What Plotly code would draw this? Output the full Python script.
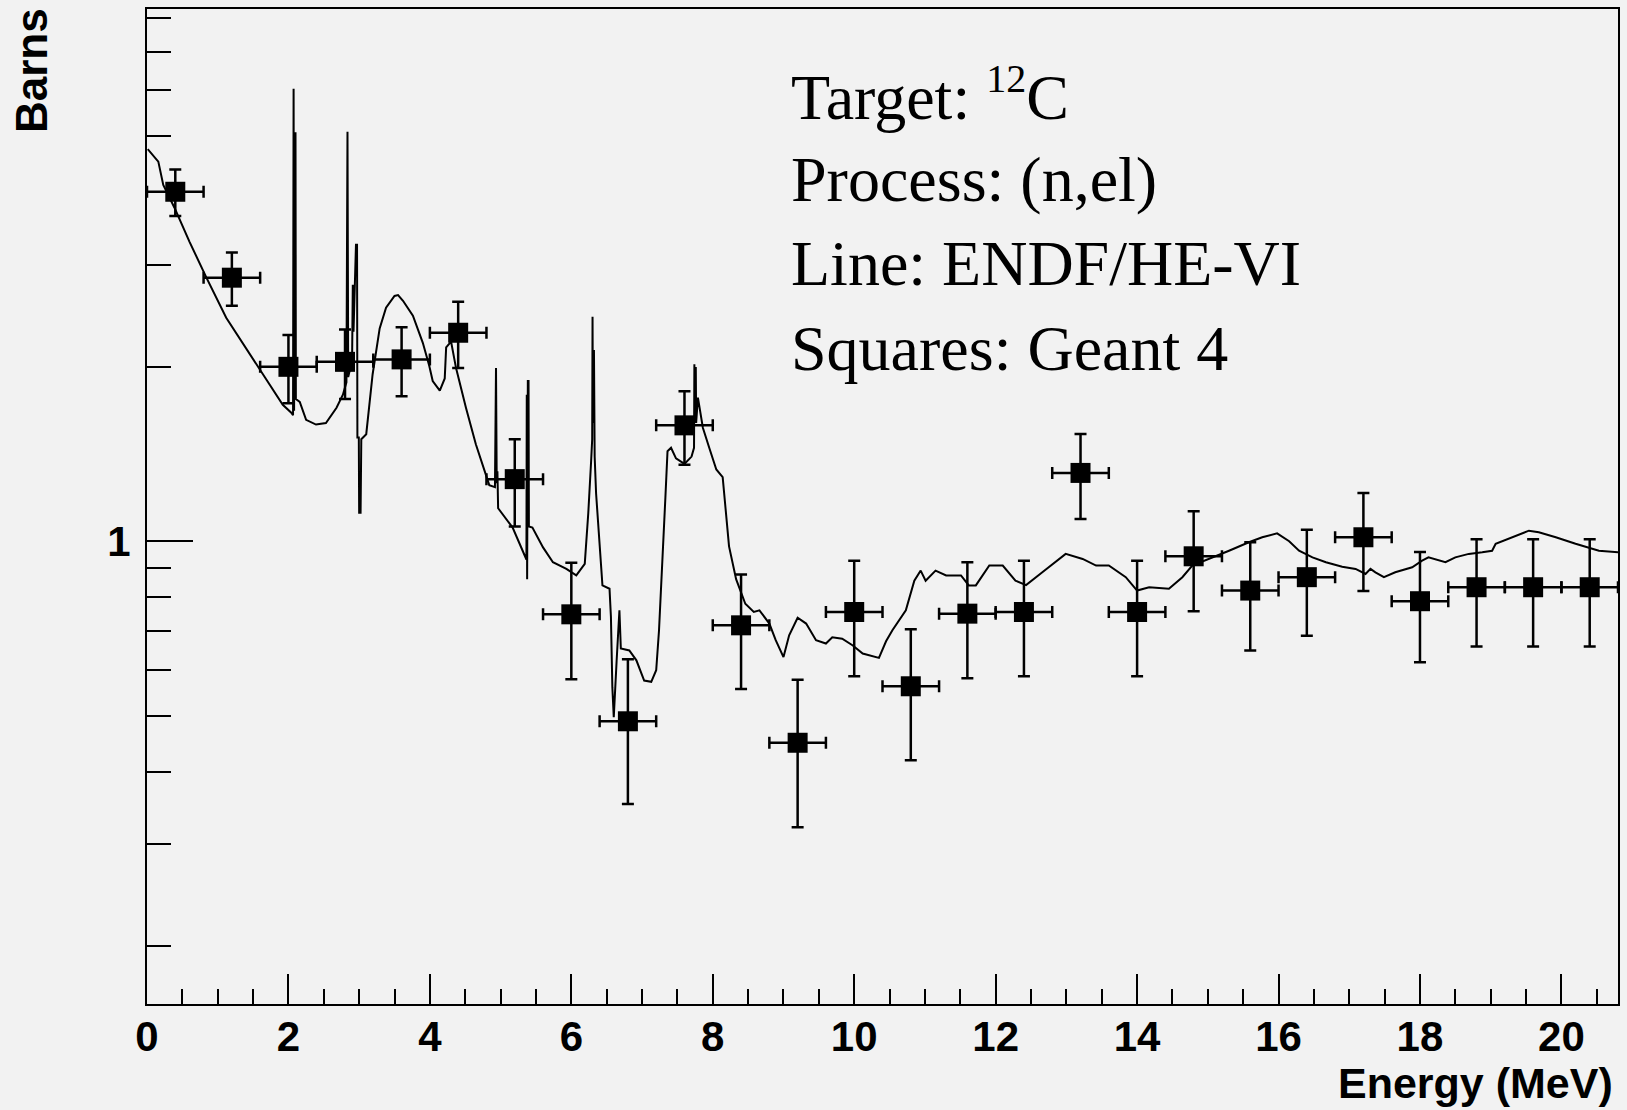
import math
import plotly.graph_objects as go

# ---- Geant4 points (bin centres, cross section, errors) ----
energy_pts = [0.4, 1.2, 2.0, 2.8, 3.6, 4.4, 5.2, 6.0, 6.8, 7.6, 8.4, 9.2, 10.0,
              10.8, 11.6, 12.4, 13.2, 14.0, 14.8, 15.6, 16.4, 17.2, 18.0, 18.8, 19.6, 20.4]
sigma_pts = [4.01, 2.85, 2.0, 2.04, 2.06, 2.29, 1.28, 0.748, 0.489, 1.585, 0.716, 0.449, 0.755,
             0.562, 0.75, 0.755, 1.312, 0.755, 0.942, 0.822, 0.867, 1.016, 0.788, 0.833, 0.833, 0.833]
sigma_err = [0.37, 0.30, 0.27, 0.28, 0.28, 0.30, 0.22, 0.17, 0.137, 0.23, 0.16, 0.128, 0.17,
             0.143, 0.17, 0.17, 0.22, 0.17, 0.185, 0.174, 0.18, 0.195, 0.17, 0.175, 0.175, 0.175]
energy_half_bin = [0.4] * len(energy_pts)

# ---- ENDF/HE-VI evaluated curve ----
endf_energy = [0.01, 0.16, 0.23, 0.39, 0.60, 0.84, 1.12, 1.36, 1.59, 1.78, 1.92, 2.04, 2.065, 2.073,
               2.08, 2.087, 2.10, 2.105, 2.16, 2.25, 2.39, 2.53, 2.68, 2.77, 2.82, 2.835, 2.845,
               2.90, 2.91, 2.92, 2.955, 2.97, 2.975, 2.995, 3.0, 3.02, 3.03, 3.10, 3.19, 3.29,
               3.38, 3.50, 3.55, 3.62, 3.76, 3.90, 3.99, 4.04, 4.14, 4.21, 4.23, 4.30, 4.37, 4.51,
               4.65, 4.84, 4.92, 4.935, 4.945, 4.955, 4.965, 5.17, 5.34, 5.365, 5.37, 5.375, 5.385,
               5.395, 5.40, 5.45, 5.60, 5.74, 5.93, 6.07, 6.19, 6.24, 6.28, 6.295, 6.30, 6.305,
               6.31, 6.32, 6.33, 6.35, 6.40, 6.44, 6.54, 6.56, 6.58, 6.60, 6.64, 6.68, 6.70, 6.82,
               6.92, 7.03, 7.13, 7.20, 7.24, 7.29, 7.33, 7.36, 7.41, 7.48, 7.60, 7.70, 7.735, 7.74,
               7.745, 7.75, 7.76, 7.765, 7.79, 7.86, 7.95, 8.05, 8.14, 8.19, 8.23, 8.33, 8.46, 8.58,
               8.66, 8.80, 8.89, 9.00, 9.08, 9.20, 9.32, 9.46, 9.60, 9.69, 9.83, 9.98, 10.12, 10.35,
               10.45, 10.54, 10.73, 10.85, 10.94, 11.01, 11.15, 11.30, 11.51, 11.62, 11.72, 11.91,
               12.10, 12.28, 12.43, 12.66, 12.99, 13.23, 13.42, 13.60, 13.84, 14.00, 14.17, 14.45,
               14.64, 14.78, 15.02, 15.30, 15.58, 15.77, 15.98, 16.15, 16.29, 16.48, 16.67, 16.90,
               17.09, 17.23, 17.30, 17.37, 17.49, 17.65, 17.89, 18.03, 18.12, 18.36, 18.50, 18.69,
               18.88, 19.02, 19.07, 19.30, 19.54, 19.68, 19.92, 20.20, 20.53, 20.81]
endf_sigma = [4.75, 4.52, 4.12, 3.76, 3.29, 2.85, 2.43, 2.19, 1.98, 1.83, 1.72, 1.667, 1.65, 6.04,
              1.68, 5.06, 5.06, 1.76, 1.74, 1.62, 1.59, 1.60, 1.70, 1.79, 1.88, 5.09, 1.92,
              2.05, 2.77, 2.30, 3.25, 3.25, 1.51, 1.51, 1.12, 1.12, 1.50, 1.53, 1.94, 2.33,
              2.53, 2.65, 2.66, 2.60, 2.45, 2.20, 2.01, 1.89, 1.82, 1.91, 2.16, 2.21, 1.99, 1.70,
              1.47, 1.25, 1.24, 1.99, 1.26, 1.32, 1.14, 1.056, 0.951, 0.93, 1.79, 0.86, 1.89,
              1.89, 1.06, 1.056, 0.976, 0.92, 0.896, 0.873, 0.914, 1.12, 1.376, 1.50, 2.44, 1.60,
              2.13, 2.13, 1.40, 1.21, 0.98, 0.839, 0.828, 0.74, 0.56, 0.497, 0.62, 0.76, 0.653, 0.648,
              0.623, 0.575, 0.572, 0.599, 0.702, 0.976, 1.19, 1.43, 1.45, 1.39, 1.36, 1.40, 1.45, 2.02,
              1.60, 1.99, 1.99, 1.60, 1.77, 1.57, 1.45, 1.33, 1.29, 1.10, 0.98, 0.86, 0.78, 0.755,
              0.76, 0.721, 0.675, 0.631, 0.688, 0.738, 0.721, 0.675, 0.666, 0.683, 0.679, 0.661, 0.64, 0.629,
              0.672, 0.702, 0.76, 0.855, 0.89, 0.855, 0.89, 0.873, 0.873, 0.839, 0.839, 0.908,
              0.908, 0.855, 0.84, 0.884, 0.951, 0.932, 0.908, 0.908, 0.867, 0.822, 0.833, 0.828,
              0.867, 0.908, 0.932, 0.963, 0.996, 1.016, 1.032, 1.0, 0.963, 0.938, 0.92, 0.904,
              0.896, 0.878, 0.896, 0.884, 0.867, 0.884, 0.902, 0.926, 0.938, 0.92, 0.938, 0.951,
              0.957, 0.963, 0.99, 1.016, 1.043, 1.036, 1.016, 0.99, 0.963, 0.957]

x_range = [0, 20.8]
y_range = [0.159, 8.29]
y_minor_ticks = [0.2, 0.3, 0.4, 0.5, 0.6, 0.7, 0.8, 0.9, 2, 3, 4, 5, 6, 7, 8]

info_lines = ["Target: <sup><span style='font-size:40px'>12</span></sup>C", "Process: (n,el)",
              "Line: ENDF/HE-VI", "Squares: Geant 4"]

# ---- layout geometry (pixels) ----
W, H = 1627, 1110
ML, MR, MT, MB = 147, 7, 7, 106
PW, PH = W - ML - MR, H - MT - MB
BG = "#f2f2f2"


def px_x(px):
    return (px - ML) / PW


def px_y(py):
    return (H - MB - py) / PH


fig = go.Figure()

fig.add_trace(go.Scatter(
    x=endf_energy, y=endf_sigma, mode="lines",
    line=dict(color="black", width=2), showlegend=False, hoverinfo="skip"))

fig.add_trace(go.Scatter(
    x=energy_pts, y=sigma_pts, mode="markers",
    marker=dict(symbol="square", size=20, color="black", line=dict(width=0)),
    error_x=dict(type="data", array=energy_half_bin, color="black", thickness=2.5, width=6),
    error_y=dict(type="data", array=sigma_err, color="black", thickness=2.5, width=6),
    showlegend=False))

tick_font = dict(family="Liberation Sans", size=42, color="black", weight="bold")

fig.update_xaxes(
    range=x_range, showline=True, linecolor="black", linewidth=2, mirror=True,
    showgrid=False, zeroline=False,
    tickmode="linear", tick0=0, dtick=2, ticks="inside", ticklen=30, tickwidth=2, tickcolor="black",
    minor=dict(dtick=0.5, tick0=0, ticks="inside", ticklen=15, tickwidth=2, tickcolor="black"),
    tickfont=tick_font, ticklabelstandoff=-5)

fig.update_yaxes(
    type="log", range=[math.log10(y_range[0]), math.log10(y_range[1])],
    showline=True, linecolor="black", linewidth=2, mirror=True,
    showgrid=False, zeroline=False,
    tickmode="array", tickvals=[1], ticktext=["1"],
    ticks="inside", ticklen=46, tickwidth=2, tickcolor="black",
    minor=dict(tickmode="array", tickvals=y_minor_ticks, ticks="inside", ticklen=24,
               tickwidth=2, tickcolor="black"),
    tickfont=tick_font, ticklabelstandoff=6)

annotations = []
baselines = [114, 199, 283, 368]
for txt, base in zip(info_lines, baselines):
    annotations.append(dict(
        text=txt, xref="paper", yref="paper", x=px_x(790), y=px_y(base - 21),
        xanchor="left", yanchor="middle", showarrow=False,
        font=dict(family="Liberation Serif", size=64, color="black")))

annotations.append(dict(
    text="Barns", xref="paper", yref="paper", x=px_x(32), y=px_y(69),
    xanchor="center", yanchor="middle", textangle=-90, showarrow=False,
    font=dict(family="Liberation Sans", size=44, color="black", weight="bold")))

annotations.append(dict(
    text="Energy (MeV)", xref="paper", yref="paper", x=px_x(1617), y=px_y(1083),
    xanchor="right", yanchor="middle", showarrow=False,
    font=dict(family="Liberation Sans", size=43, color="black", weight="bold")))

fig.update_layout(
    width=W, height=H, margin=dict(l=ML, r=MR, t=MT, b=MB),
    paper_bgcolor=BG, plot_bgcolor=BG, annotations=annotations)

fig.write_html("out.html")
